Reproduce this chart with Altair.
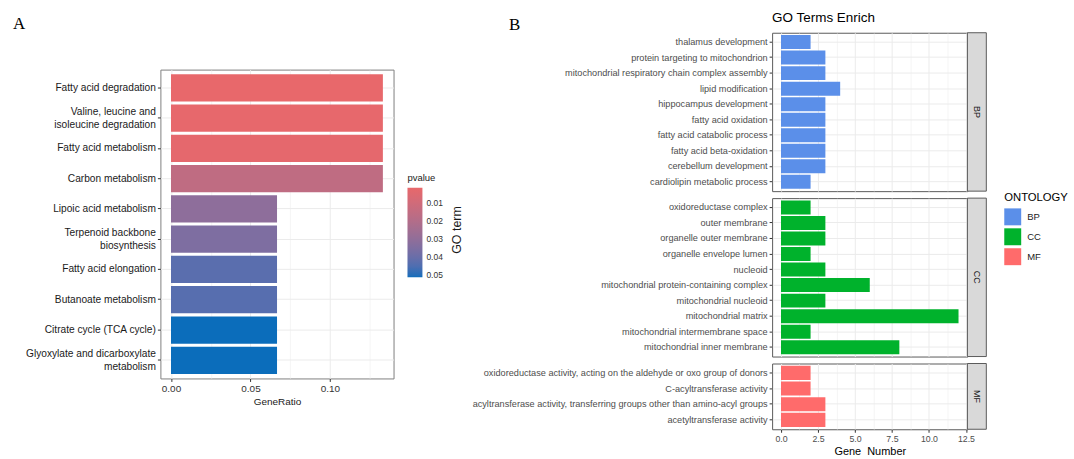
import altair as alt
import pandas as pd

FONT = "Liberation Sans"
SERIF = "Liberation Serif"

# ---------------- Panel A: enriched KEGG pathways ----------------
pathways = [
    "Fatty acid degradation",
    "Valine, leucine and\nisoleucine degradation",
    "Fatty acid metabolism",
    "Carbon metabolism",
    "Lipoic acid metabolism",
    "Terpenoid backbone\nbiosynthesis",
    "Fatty acid elongation",
    "Butanoate metabolism",
    "Citrate cycle (TCA cycle)",
    "Glyoxylate and dicarboxylate\nmetabolism",
]
gene_ratio = [0.1333, 0.1333, 0.1333, 0.1333, 0.0667, 0.0667, 0.0667, 0.0667, 0.0667, 0.0667]
pvalues = [0.0018, 0.0022, 0.0028, 0.0160, 0.0310, 0.0350, 0.0430, 0.0435, 0.0510, 0.0510]
ratio_ticks = [0, 0.025, 0.05, 0.075, 0.1, 0.125]
pvalue_ticks = [0.01, 0.02, 0.03, 0.04, 0.05]

# ---------------- Panel B: GO terms by ontology ----------------
bp_terms = [
    "thalamus development",
    "protein targeting to mitochondrion",
    "mitochondrial respiratory chain complex assembly",
    "lipid modification",
    "hippocampus development",
    "fatty acid oxidation",
    "fatty acid catabolic process",
    "fatty acid beta-oxidation",
    "cerebellum development",
    "cardiolipin metabolic process",
]
bp_counts = [2, 3, 3, 4, 3, 3, 3, 3, 3, 2]

cc_terms = [
    "oxidoreductase complex",
    "outer membrane",
    "organelle outer membrane",
    "organelle envelope lumen",
    "nucleoid",
    "mitochondrial protein-containing complex",
    "mitochondrial nucleoid",
    "mitochondrial matrix",
    "mitochondrial intermembrane space",
    "mitochondrial inner membrane",
]
cc_counts = [2, 3, 3, 2, 3, 6, 3, 12, 2, 8]

mf_terms = [
    "oxidoreductase activity, acting on the aldehyde or oxo group of donors",
    "C-acyltransferase activity",
    "acyltransferase activity, transferring groups other than amino-acyl groups",
    "acetyltransferase activity",
]
mf_counts = [2, 2, 3, 3]

ontology_names = ["BP", "CC", "MF"]
ontology_colors = ["#5B8FE9", "#00B22C", "#FF6B6B"]
count_ticks = [0, 1.25, 2.5, 3.75, 5, 6.25, 7.5, 8.75, 10, 11.25, 12.5]

GRID = "#EBEBEB"


def anchor(x, y):
    """Invisible zero-length rule that pins the layout bounds of a panel."""
    return alt.Chart(pd.DataFrame({"k": [0]})).mark_rule(strokeOpacity=0).encode(
        x=alt.value(x), x2=alt.value(x), y=alt.value(y), y2=alt.value(y)
    )


def label(text, x, y, **kw):
    return alt.Chart(pd.DataFrame({"t": [text]})).mark_text(**kw).encode(
        x=alt.value(x), y=alt.value(y), text="t:N"
    )


# ---------------- build panel A ----------------
A_W, A_H = 234, 310
A_DROP = 37  # panel A's plot area sits lower than panel B's first facet
df_a = pd.DataFrame({"pathway": pathways, "GeneRatio": gene_ratio, "pvalue": pvalues})
major_a = "round(datum.value * 1000) % 50 == 0"
two_line = "indexof(datum.label, '\\n') >= 0"

bars_a = (
    alt.Chart(df_a)
    .transform_calculate(p_rev="-datum.pvalue")
    .mark_bar()
    .encode(
        x=alt.X(
            "GeneRatio:Q",
            scale=alt.Scale(domain=[-0.00667, 0.14], nice=False, zero=False),
            axis=alt.Axis(
                values=ratio_ticks,
                title="GeneRatio",
                labelExpr=f"{major_a} ? format(datum.value, '.2f') : ''",
                tickOpacity={"condition": {"test": major_a, "value": 1}, "value": 0},
                gridWidth={"condition": {"test": major_a, "value": 1}, "value": 0.5},
                gridColor=GRID,
                domain=False,
                tickSize=3,
                tickColor="#333333",
                labelFontSize=10,
                labelColor="#333333",
                labelPadding=2,
                titleFontSize=10,
                titleFontWeight="normal",
                titleColor="#1a1a1a",
                titlePadding=3,
            ),
        ),
        x2=alt.datum(0),
        y=alt.Y(
            "pathway:N",
            sort=pathways,
            scale=alt.Scale(paddingInner=0.1, paddingOuter=0.15),
            axis=alt.Axis(
                title=None,
                labelExpr="split(datum.label, '\\n')",
                labelOffset={"condition": {"test": two_line, "value": -6.5}, "value": 0},
                labelFontSize=10.2,
                labelLineHeight=13,
                labelColor="#1a1a1a",
                labelLimit=300,
                labelOverlap=False,
                labelPadding=2,
                tickSize=3,
                tickColor="#333333",
                domain=False,
                grid=True,
                gridColor=GRID,
                bandPosition=0.5,
            ),
        ),
        color=alt.Color(
            "p_rev:Q",
            scale=alt.Scale(
                domain=[-0.051, -0.0018],
                range=["#0B6DBB", "#E8686B"],
                interpolate="lab",
            ),
            legend=alt.Legend(
                title="pvalue",
                orient="none",
                direction="vertical",
                legendX=248,
                legendY=104,
                padding=0,
                gradientLength=90,
                gradientThickness=15,
                gradientStrokeWidth=0,
                values=[-v for v in pvalue_ticks],
                labelExpr="format(-datum.value, '.2f')",
                titleFontSize=9.5,
                titleFontWeight="normal",
                titleColor="#1a1a1a",
                titlePadding=5,
                labelFontSize=8.5,
                labelColor="#333333",
                labelOffset=4,
            ),
        ),
    )
)

plot_a = alt.layer(
    bars_a,
    label("GO term", 298, 161, angle=270, fontSize=12.5, color="#1a1a1a", font=FONT),
    label("A", -148, -41, align="left", baseline="alphabetic", fontSize=17, font=SERIF, color="#000000"),
    anchor(-160, -68),
    anchor(306, 0),
).properties(
    width=A_W,
    height=A_H,
    view=alt.ViewBackground(stroke="#808080", strokeWidth=1),
)

spacer_a = anchor(0, 0).properties(
    width=A_W, height=A_DROP, view=alt.ViewBackground(stroke="transparent")
)

chart_a = alt.vconcat(spacer_a, plot_a, spacing=0, bounds="flush").resolve_scale(
    color="independent"
)

# ---------------- build panel B ----------------
B_W = 196
STRIP_W = 19
major_b = "round(datum.value * 100) % 250 == 0"


def go_panel(terms, counts, name, height, bottom=False, legend=False, extras=()):
    df = pd.DataFrame({"term": terms, "count": counts, "ONTOLOGY": [name] * len(terms)})
    x_axis = alt.Axis(
        values=count_ticks,
        title="Gene\u00a0 Number" if bottom else None,
        labels=bottom,
        labelExpr=f"{major_b} ? format(datum.value, '.1f') : ''",
        ticks=bottom,
        tickOpacity={"condition": {"test": major_b, "value": 1}, "value": 0},
        gridWidth={"condition": {"test": major_b, "value": 1}, "value": 0.5},
        gridColor=GRID,
        domain=False,
        tickSize=3,
        tickColor="#333333",
        labelFontSize=8.8,
        labelColor="#4D4D4D",
        labelPadding=2,
        titleFontSize=11,
        titleFontWeight="normal",
        titleColor="#000000",
        titlePadding=3,
    )
    leg = (
        alt.Legend(
            title="ONTOLOGY",
            orient="none",
            legendX=233,
            legendY=160,
            padding=0,
            symbolType="square",
            symbolSize=289,
            symbolStrokeWidth=0,
            symbolOpacity=1,
            rowPadding=3,
            titleFontSize=11.3,
            titleFontWeight="normal",
            titleColor="#000000",
            titlePadding=5,
            labelFontSize=9.5,
            labelColor="#1a1a1a",
            labelOffset=6,
        )
        if legend
        else None
    )
    bars = (
        alt.Chart(df)
        .mark_bar()
        .encode(
            x=alt.X("count:Q", scale=alt.Scale(domain=[-0.6, 12.6], nice=False, zero=False), axis=x_axis),
            x2=alt.datum(0),
            y=alt.Y(
                "term:N",
                sort=terms,
                scale=alt.Scale(paddingInner=0.1, paddingOuter=0.15),
                axis=alt.Axis(
                    title=None,
                    labelFontSize=9.2,
                    labelColor="#4D4D4D",
                    labelLimit=400,
                    labelOverlap=False,
                    labelPadding=2,
                    tickSize=3,
                    tickColor="#333333",
                    domain=False,
                    grid=True,
                    gridColor=GRID,
                    bandPosition=0.5,
                ),
            ),
            color=alt.Color(
                "ONTOLOGY:N",
                scale=alt.Scale(domain=ontology_names, range=ontology_colors),
                legend=leg,
            ),
        )
    )
    strip = alt.Chart(pd.DataFrame({"t": [name]})).mark_rect(
        fill="#D9D9D9", stroke="#5A5A5A", strokeWidth=1
    ).encode(
        x=alt.value(B_W), x2=alt.value(B_W + STRIP_W), y=alt.value(0), y2=alt.value(height)
    )
    strip_text = label(name, B_W + STRIP_W / 2, height / 2, angle=90, fontSize=9,
                       color="#1a1a1a", font=FONT)
    return alt.layer(bars, strip, strip_text, *extras).properties(
        width=B_W,
        height=height,
        view=alt.ViewBackground(stroke="#5A5A5A", strokeWidth=1),
    )


bp_panel = go_panel(
    bp_terms, bp_counts, "BP", 159, legend=True,
    extras=(
        label("GO Terms Enrich", 0, -15, align="left", baseline="middle", fontSize=13.5,
              color="#000000", font=FONT),
        label("B", -264, -3, align="left", baseline="alphabetic", fontSize=17, font=SERIF,
              color="#000000"),
        anchor(-306, -31),
    ),
)
cc_panel = go_panel(cc_terms, cc_counts, "CC", 159)
mf_panel = go_panel(mf_terms, mf_counts, "MF", 66, bottom=True)

chart_b = alt.vconcat(bp_panel, cc_panel, mf_panel, spacing=7, bounds="flush").resolve_scale(
    x="independent", y="independent", color="independent"
)

chart = (
    alt.hconcat(chart_a, chart_b, spacing=0)
    .resolve_scale(color="independent")
    .properties(padding={"left": 0, "top": 0, "right": 5, "bottom": 5}, background="white")
    .configure(font=FONT)
)

chart.save("out.html", embed_options={"renderer": "svg", "actions": False})
